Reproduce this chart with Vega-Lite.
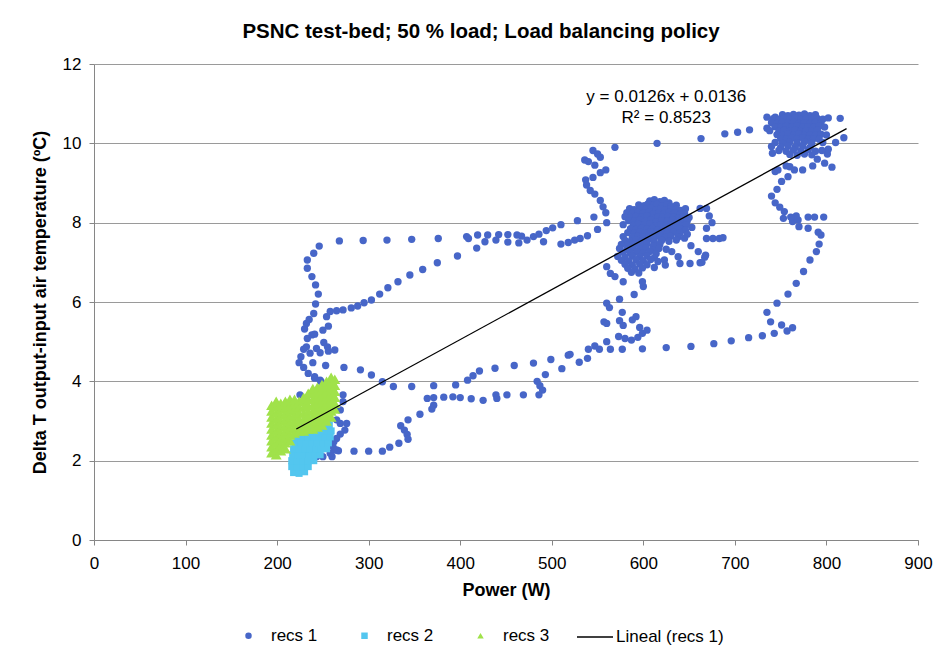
{
"$schema": "https://vega.github.io/schema/vega-lite/v6.json",
"width": 824,
"height": 476,
"autosize": {"type": "none"},
"padding": {"left": 94, "top": 64, "right": 25, "bottom": 123},
"background": "white",
"title": {"text": "PSNC test-bed; 50 % load; Load balancing policy", "font": "Liberation Sans", "fontSize": 20.5, "fontWeight": "bold", "color": "#000000", "anchor": "middle", "frame": "group", "offset": 13, "dx": -25},
"config": {
  "view": {"stroke": null},
  "font": "Liberation Sans",
  "axis": {"labelFont": "Liberation Sans", "labelFontSize": 17, "labelColor": "#000000", "titleFont": "Liberation Sans", "titleFontSize": 18, "titleFontWeight": "bold", "titleColor": "#000000", "domainColor": "#868686", "tickColor": "#868686", "gridColor": "#9A9A9A", "tickSize": 5}
},
"datasets": {
"pts": [
{"x":246,"y":7.41,"s":"recs 1"},{"x":268,"y":7.54,"s":"recs 1"},{"x":294,"y":7.55,"s":"recs 1"},{"x":320,"y":7.56,"s":"recs 1"},{"x":347,"y":7.58,"s":"recs 1"},{"x":376,"y":7.6,"s":"recs 1"},{"x":407,"y":7.65,"s":"recs 1"},{"x":419,"y":7.69,"s":"recs 1"},{"x":430,"y":7.69,"s":"recs 1"},{"x":442,"y":7.7,"s":"recs 1"},{"x":452,"y":7.7,"s":"recs 1"},{"x":462,"y":7.69,"s":"recs 1"},{"x":473,"y":7.56,"s":"recs 1"},{"x":452,"y":7.51,"s":"recs 1"},{"x":464,"y":7.49,"s":"recs 1"},{"x":439,"y":7.56,"s":"recs 1"},{"x":427,"y":7.52,"s":"recs 1"},{"x":418,"y":7.36,"s":"recs 1"},{"x":409,"y":7.6,"s":"recs 1"},
{"x":480,"y":7.65,"s":"recs 1"},{"x":486,"y":7.71,"s":"recs 1"},{"x":494,"y":7.8,"s":"recs 1"},{"x":501,"y":7.87,"s":"recs 1"},{"x":510,"y":7.95,"s":"recs 1"},{"x":491,"y":7.52,"s":"recs 1"},{"x":510,"y":7.46,"s":"recs 1"},{"x":518,"y":7.5,"s":"recs 1"},{"x":525,"y":7.56,"s":"recs 1"},{"x":531,"y":7.6,"s":"recs 1"},{"x":539,"y":7.67,"s":"recs 1"},{"x":528,"y":8.05,"s":"recs 1"},{"x":467,"y":7.66,"s":"recs 1"},
{"x":240,"y":7.23,"s":"recs 1"},{"x":233,"y":7.06,"s":"recs 1"},{"x":233,"y":6.85,"s":"recs 1"},{"x":238,"y":6.64,"s":"recs 1"},{"x":242,"y":6.43,"s":"recs 1"},{"x":245,"y":6.2,"s":"recs 1"},{"x":242,"y":5.95,"s":"recs 1"},{"x":240,"y":5.71,"s":"recs 1"},{"x":235,"y":5.56,"s":"recs 1"},{"x":232,"y":5.46,"s":"recs 1"},{"x":230,"y":5.32,"s":"recs 1"},{"x":233,"y":5.08,"s":"recs 1"},{"x":238,"y":5.17,"s":"recs 1"},{"x":241,"y":5.19,"s":"recs 1"},{"x":229,"y":4.81,"s":"recs 1"},{"x":226,"y":4.62,"s":"recs 1"},{"x":224,"y":4.47,"s":"recs 1"},{"x":229,"y":4.35,"s":"recs 1"},{"x":234,"y":4.2,"s":"recs 1"},{"x":241,"y":4.08,"s":"recs 1"},{"x":248,"y":3.99,"s":"recs 1"},{"x":232,"y":4.87,"s":"recs 1"},{"x":236,"y":4.71,"s":"recs 1"},{"x":243,"y":4.83,"s":"recs 1"},{"x":247,"y":4.72,"s":"recs 1"},{"x":251,"y":4.98,"s":"recs 1"},{"x":255,"y":4.87,"s":"recs 1"},{"x":256,"y":4.76,"s":"recs 1"},{"x":263,"y":4.79,"s":"recs 1"},{"x":239,"y":4.47,"s":"recs 1"},{"x":253,"y":4.4,"s":"recs 1"},{"x":250,"y":5.29,"s":"recs 1"},{"x":256,"y":5.39,"s":"recs 1"},{"x":254,"y":5.63,"s":"recs 1"},{"x":258,"y":5.76,"s":"recs 1"},{"x":265,"y":5.78,"s":"recs 1"},{"x":272,"y":5.8,"s":"recs 1"},{"x":281,"y":5.85,"s":"recs 1"},{"x":288,"y":5.9,"s":"recs 1"},{"x":295,"y":5.98,"s":"recs 1"},{"x":303,"y":6.05,"s":"recs 1"},{"x":312,"y":6.2,"s":"recs 1"},{"x":321,"y":6.36,"s":"recs 1"},{"x":332,"y":6.51,"s":"recs 1"},{"x":345,"y":6.68,"s":"recs 1"},{"x":359,"y":6.82,"s":"recs 1"},{"x":375,"y":6.99,"s":"recs 1"},{"x":397,"y":7.16,"s":"recs 1"},
{"x":273,"y":4.35,"s":"recs 1"},{"x":291,"y":4.29,"s":"recs 1"},{"x":303,"y":4.16,"s":"recs 1"},{"x":315,"y":3.99,"s":"recs 1"},{"x":327,"y":3.87,"s":"recs 1"},{"x":347,"y":3.87,"s":"recs 1"},{"x":371,"y":3.89,"s":"recs 1"},{"x":395,"y":3.91,"s":"recs 1"},{"x":408,"y":4.03,"s":"recs 1"},{"x":414,"y":4.14,"s":"recs 1"},{"x":421,"y":4.26,"s":"recs 1"},{"x":438,"y":4.33,"s":"recs 1"},{"x":459,"y":4.4,"s":"recs 1"},{"x":480,"y":4.46,"s":"recs 1"},{"x":499,"y":4.55,"s":"recs 1"},{"x":518,"y":4.66,"s":"recs 1"},{"x":511,"y":4.32,"s":"recs 1"},{"x":493,"y":4.17,"s":"recs 1"},{"x":484,"y":4.0,"s":"recs 1"},{"x":487,"y":3.89,"s":"recs 1"},{"x":490,"y":3.78,"s":"recs 1"},{"x":486,"y":3.66,"s":"recs 1"},{"x":469,"y":3.66,"s":"recs 1"},{"x":451,"y":3.66,"s":"recs 1"},{"x":440,"y":3.57,"s":"recs 1"},{"x":439,"y":3.66,"s":"recs 1"},{"x":425,"y":3.52,"s":"recs 1"},{"x":412,"y":3.56,"s":"recs 1"},{"x":400,"y":3.59,"s":"recs 1"},{"x":392,"y":3.61,"s":"recs 1"},{"x":382,"y":3.6,"s":"recs 1"},{"x":371,"y":3.59,"s":"recs 1"},{"x":364,"y":3.57,"s":"recs 1"},{"x":371,"y":3.4,"s":"recs 1"},{"x":369,"y":3.3,"s":"recs 1"},{"x":356,"y":3.17,"s":"recs 1"},{"x":343,"y":3.03,"s":"recs 1"},{"x":335,"y":2.88,"s":"recs 1"},{"x":339,"y":2.77,"s":"recs 1"},{"x":342,"y":2.66,"s":"recs 1"},{"x":343,"y":2.54,"s":"recs 1"},{"x":333,"y":2.44,"s":"recs 1"},{"x":323,"y":2.34,"s":"recs 1"},{"x":315,"y":2.24,"s":"recs 1"},{"x":300,"y":2.24,"s":"recs 1"},{"x":284,"y":2.24,"s":"recs 1"},{"x":267,"y":2.25,"s":"recs 1"},
{"x":272,"y":3.66,"s":"recs 1"},{"x":272,"y":3.49,"s":"recs 1"},{"x":269,"y":3.28,"s":"recs 1"},{"x":269,"y":2.94,"s":"recs 1"},{"x":276,"y":2.94,"s":"recs 1"},{"x":274,"y":2.77,"s":"recs 1"},{"x":269,"y":2.67,"s":"recs 1"},{"x":262,"y":2.48,"s":"recs 1"},{"x":263,"y":2.27,"s":"recs 1"},{"x":260,"y":2.1,"s":"recs 1"},{"x":265,"y":3.03,"s":"recs 1"},{"x":265,"y":2.56,"s":"recs 1"},{"x":261,"y":2.35,"s":"recs 1"},{"x":258,"y":2.19,"s":"recs 1"},{"x":265,"y":2.27,"s":"recs 1"},{"x":250,"y":2.1,"s":"recs 1"},{"x":243,"y":2.1,"s":"recs 1"},{"x":238,"y":2.02,"s":"recs 1"},{"x":225,"y":3.66,"s":"recs 1"},{"x":232,"y":3.57,"s":"recs 1"},{"x":241,"y":4.12,"s":"recs 1"},{"x":247,"y":4.03,"s":"recs 1"},
{"x":520,"y":4.68,"s":"recs 1"},{"x":530,"y":4.48,"s":"recs 1"},{"x":539,"y":4.58,"s":"recs 1"},{"x":540,"y":4.81,"s":"recs 1"},{"x":547,"y":4.89,"s":"recs 1"},{"x":552,"y":4.81,"s":"recs 1"},{"x":564,"y":4.81,"s":"recs 1"},{"x":577,"y":4.81,"s":"recs 1"},{"x":599,"y":4.82,"s":"recs 1"},{"x":625,"y":4.85,"s":"recs 1"},{"x":652,"y":4.88,"s":"recs 1"},{"x":677,"y":4.95,"s":"recs 1"},{"x":696,"y":5.02,"s":"recs 1"},{"x":715,"y":5.1,"s":"recs 1"},{"x":730,"y":5.15,"s":"recs 1"},{"x":743,"y":5.21,"s":"recs 1"},{"x":757,"y":5.27,"s":"recs 1"},{"x":763,"y":5.35,"s":"recs 1"},{"x":751,"y":5.42,"s":"recs 1"},{"x":739,"y":5.5,"s":"recs 1"},{"x":735,"y":5.74,"s":"recs 1"},{"x":746,"y":5.97,"s":"recs 1"},{"x":758,"y":6.2,"s":"recs 1"},{"x":767,"y":6.47,"s":"recs 1"},{"x":775,"y":6.77,"s":"recs 1"},{"x":782,"y":7.06,"s":"recs 1"},{"x":789,"y":7.27,"s":"recs 1"},{"x":792,"y":7.46,"s":"recs 1"},{"x":794,"y":7.69,"s":"recs 1"},{"x":791,"y":7.76,"s":"recs 1"},{"x":780,"y":7.86,"s":"recs 1"},{"x":780,"y":8.14,"s":"recs 1"},{"x":787,"y":8.14,"s":"recs 1"},{"x":797,"y":8.14,"s":"recs 1"},{"x":770,"y":7.9,"s":"recs 1"},{"x":763,"y":8.03,"s":"recs 1"},{"x":769,"y":8.07,"s":"recs 1"},{"x":767,"y":8.17,"s":"recs 1"},{"x":761,"y":8.14,"s":"recs 1"},{"x":753,"y":8.11,"s":"recs 1"},{"x":754,"y":8.28,"s":"recs 1"},{"x":749,"y":8.39,"s":"recs 1"},{"x":744,"y":8.5,"s":"recs 1"},{"x":740,"y":8.67,"s":"recs 1"},{"x":746,"y":8.84,"s":"recs 1"},{"x":751,"y":9.04,"s":"recs 1"},{"x":758,"y":9.16,"s":"recs 1"},{"x":744,"y":9.29,"s":"recs 1"},{"x":747,"y":9.33,"s":"recs 1"},{"x":756,"y":9.43,"s":"recs 1"},{"x":760,"y":9.41,"s":"recs 1"},{"x":765,"y":9.33,"s":"recs 1"},{"x":774,"y":9.33,"s":"recs 1"},{"x":785,"y":9.43,"s":"recs 1"},{"x":798,"y":9.5,"s":"recs 1"},{"x":806,"y":9.4,"s":"recs 1"},{"x":790,"y":9.6,"s":"recs 1"},{"x":801,"y":9.73,"s":"recs 1"},{"x":802,"y":9.85,"s":"recs 1"},{"x":810,"y":10.02,"s":"recs 1"},{"x":819,"y":10.14,"s":"recs 1"},{"x":815,"y":10.63,"s":"recs 1"},
{"x":560,"y":5.0,"s":"recs 1"},{"x":573,"y":5.13,"s":"recs 1"},{"x":580,"y":5.08,"s":"recs 1"},{"x":587,"y":5.04,"s":"recs 1"},{"x":594,"y":5.11,"s":"recs 1"},{"x":599,"y":5.21,"s":"recs 1"},{"x":604,"y":5.29,"s":"recs 1"},{"x":596,"y":5.36,"s":"recs 1"},{"x":588,"y":5.55,"s":"recs 1"},{"x":592,"y":5.63,"s":"recs 1"},{"x":574,"y":5.53,"s":"recs 1"},{"x":578,"y":5.41,"s":"recs 1"},{"x":557,"y":5.5,"s":"recs 1"},{"x":560,"y":5.46,"s":"recs 1"},{"x":577,"y":5.74,"s":"recs 1"},{"x":560,"y":5.97,"s":"recs 1"},{"x":563,"y":5.86,"s":"recs 1"},{"x":560,"y":6.89,"s":"recs 1"},{"x":564,"y":6.72,"s":"recs 1"},{"x":569,"y":6.64,"s":"recs 1"},{"x":578,"y":6.51,"s":"recs 1"},{"x":600,"y":6.39,"s":"recs 1"},{"x":599,"y":6.51,"s":"recs 1"},{"x":612,"y":6.87,"s":"recs 1"},{"x":590,"y":6.19,"s":"recs 1"},{"x":574,"y":6.07,"s":"recs 1"},
{"x":569,"y":9.9,"s":"recs 1"},{"x":615,"y":10.0,"s":"recs 1"},{"x":663,"y":10.12,"s":"recs 1"},{"x":689,"y":10.24,"s":"recs 1"},{"x":703,"y":10.28,"s":"recs 1"},{"x":716,"y":10.34,"s":"recs 1"},{"x":735,"y":10.38,"s":"recs 1"},{"x":735,"y":10.66,"s":"recs 1"},{"x":744,"y":10.66,"s":"recs 1"},
{"x":545,"y":9.82,"s":"recs 1"},{"x":536,"y":9.58,"s":"recs 1"},{"x":540,"y":9.54,"s":"recs 1"},{"x":550,"y":9.73,"s":"recs 1"},{"x":553,"y":9.65,"s":"recs 1"},{"x":547,"y":9.45,"s":"recs 1"},{"x":553,"y":9.26,"s":"recs 1"},{"x":559,"y":9.33,"s":"recs 1"},{"x":545,"y":9.14,"s":"recs 1"},{"x":537,"y":9.08,"s":"recs 1"},{"x":538,"y":8.95,"s":"recs 1"},{"x":542,"y":8.81,"s":"recs 1"},{"x":547,"y":8.72,"s":"recs 1"},{"x":553,"y":8.56,"s":"recs 1"},{"x":556,"y":8.4,"s":"recs 1"},{"x":559,"y":8.25,"s":"recs 1"},{"x":560,"y":8.0,"s":"recs 1"},{"x":550,"y":7.83,"s":"recs 1"},{"x":546,"y":8.14,"s":"recs 1"},
{"x":669,"y":8.36,"s":"recs 1"},{"x":672,"y":8.17,"s":"recs 1"},{"x":675,"y":8.0,"s":"recs 1"},{"x":669,"y":7.86,"s":"recs 1"},{"x":669,"y":7.6,"s":"recs 1"},{"x":676,"y":7.6,"s":"recs 1"},{"x":683,"y":7.6,"s":"recs 1"},{"x":687,"y":7.62,"s":"recs 1"},{"x":653,"y":7.88,"s":"recs 1"},{"x":660,"y":7.27,"s":"recs 1"},{"x":667,"y":7.13,"s":"recs 1"},{"x":662,"y":6.99,"s":"recs 1"},{"x":651,"y":6.97,"s":"recs 1"},{"x":640,"y":6.97,"s":"recs 1"},{"x":638,"y":7.14,"s":"recs 1"},{"x":631,"y":7.27,"s":"recs 1"},{"x":623,"y":7.06,"s":"recs 1"},{"x":624,"y":6.93,"s":"recs 1"},{"x":652,"y":7.42,"s":"recs 1"},{"x":662,"y":8.36,"s":"recs 1"},{"x":664,"y":7.0,"s":"recs 1"},{"x":668,"y":7.18,"s":"recs 1"},
{"x":607,"y":8.55,"s":"recs 1"},{"x":612,"y":8.58,"s":"recs 1"},{"x":618,"y":8.53,"s":"recs 1"},{"x":623,"y":8.56,"s":"recs 1"},{"x":628,"y":8.5,"s":"recs 1"},
{"x":595,"y":8.45,"s":"recs 1"},{"x":601,"y":8.43,"s":"recs 1"},{"x":605,"y":8.47,"s":"recs 1"},{"x":611,"y":8.44,"s":"recs 1"},{"x":615,"y":8.46,"s":"recs 1"},{"x":620,"y":8.42,"s":"recs 1"},{"x":626,"y":8.45,"s":"recs 1"},{"x":630,"y":8.41,"s":"recs 1"},{"x":636,"y":8.44,"s":"recs 1"},
{"x":585,"y":8.35,"s":"recs 1"},{"x":590,"y":8.33,"s":"recs 1"},{"x":597,"y":8.36,"s":"recs 1"},{"x":603,"y":8.34,"s":"recs 1"},{"x":608,"y":8.37,"s":"recs 1"},{"x":614,"y":8.33,"s":"recs 1"},{"x":619,"y":8.35,"s":"recs 1"},{"x":624,"y":8.32,"s":"recs 1"},{"x":630,"y":8.36,"s":"recs 1"},{"x":636,"y":8.34,"s":"recs 1"},{"x":641,"y":8.31,"s":"recs 1"},{"x":646,"y":8.35,"s":"recs 1"},
{"x":582,"y":8.25,"s":"recs 1"},{"x":588,"y":8.23,"s":"recs 1"},{"x":594,"y":8.26,"s":"recs 1"},{"x":600,"y":8.24,"s":"recs 1"},{"x":606,"y":8.27,"s":"recs 1"},{"x":611,"y":8.22,"s":"recs 1"},{"x":617,"y":8.25,"s":"recs 1"},{"x":623,"y":8.23,"s":"recs 1"},{"x":628,"y":8.26,"s":"recs 1"},{"x":634,"y":8.24,"s":"recs 1"},{"x":640,"y":8.21,"s":"recs 1"},{"x":645,"y":8.25,"s":"recs 1"},
{"x":580,"y":8.15,"s":"recs 1"},{"x":586,"y":8.13,"s":"recs 1"},{"x":592,"y":8.16,"s":"recs 1"},{"x":598,"y":8.14,"s":"recs 1"},{"x":604,"y":8.17,"s":"recs 1"},{"x":610,"y":8.12,"s":"recs 1"},{"x":616,"y":8.15,"s":"recs 1"},{"x":621,"y":8.13,"s":"recs 1"},{"x":627,"y":8.16,"s":"recs 1"},{"x":633,"y":8.14,"s":"recs 1"},{"x":638,"y":8.11,"s":"recs 1"},{"x":644,"y":8.15,"s":"recs 1"},{"x":650,"y":8.13,"s":"recs 1"},
{"x":584,"y":8.05,"s":"recs 1"},{"x":590,"y":8.03,"s":"recs 1"},{"x":596,"y":8.06,"s":"recs 1"},{"x":602,"y":8.04,"s":"recs 1"},{"x":608,"y":8.07,"s":"recs 1"},{"x":614,"y":8.02,"s":"recs 1"},{"x":620,"y":8.05,"s":"recs 1"},{"x":626,"y":8.03,"s":"recs 1"},{"x":632,"y":8.06,"s":"recs 1"},{"x":637,"y":8.04,"s":"recs 1"},{"x":643,"y":8.01,"s":"recs 1"},{"x":648,"y":8.05,"s":"recs 1"},
{"x":578,"y":7.95,"s":"recs 1"},{"x":589,"y":7.93,"s":"recs 1"},{"x":595,"y":7.96,"s":"recs 1"},{"x":601,"y":7.94,"s":"recs 1"},{"x":607,"y":7.97,"s":"recs 1"},{"x":613,"y":7.92,"s":"recs 1"},{"x":619,"y":7.95,"s":"recs 1"},{"x":625,"y":7.93,"s":"recs 1"},{"x":631,"y":7.96,"s":"recs 1"},{"x":636,"y":7.94,"s":"recs 1"},{"x":642,"y":7.91,"s":"recs 1"},{"x":647,"y":7.95,"s":"recs 1"},
{"x":586,"y":7.85,"s":"recs 1"},{"x":592,"y":7.83,"s":"recs 1"},{"x":598,"y":7.86,"s":"recs 1"},{"x":604,"y":7.84,"s":"recs 1"},{"x":610,"y":7.87,"s":"recs 1"},{"x":616,"y":7.82,"s":"recs 1"},{"x":622,"y":7.85,"s":"recs 1"},{"x":628,"y":7.83,"s":"recs 1"},{"x":634,"y":7.86,"s":"recs 1"},{"x":640,"y":7.84,"s":"recs 1"},{"x":646,"y":7.81,"s":"recs 1"},
{"x":583,"y":7.75,"s":"recs 1"},{"x":590,"y":7.73,"s":"recs 1"},{"x":596,"y":7.76,"s":"recs 1"},{"x":602,"y":7.74,"s":"recs 1"},{"x":608,"y":7.77,"s":"recs 1"},{"x":614,"y":7.72,"s":"recs 1"},{"x":620,"y":7.75,"s":"recs 1"},{"x":626,"y":7.73,"s":"recs 1"},{"x":633,"y":7.76,"s":"recs 1"},{"x":640,"y":7.74,"s":"recs 1"},{"x":648,"y":7.71,"s":"recs 1"},
{"x":578,"y":7.65,"s":"recs 1"},{"x":588,"y":7.63,"s":"recs 1"},{"x":594,"y":7.66,"s":"recs 1"},{"x":600,"y":7.64,"s":"recs 1"},{"x":606,"y":7.67,"s":"recs 1"},{"x":612,"y":7.62,"s":"recs 1"},{"x":618,"y":7.65,"s":"recs 1"},{"x":624,"y":7.63,"s":"recs 1"},{"x":630,"y":7.66,"s":"recs 1"},{"x":638,"y":7.64,"s":"recs 1"},{"x":645,"y":7.61,"s":"recs 1"},
{"x":580,"y":7.55,"s":"recs 1"},{"x":586,"y":7.53,"s":"recs 1"},{"x":592,"y":7.56,"s":"recs 1"},{"x":598,"y":7.54,"s":"recs 1"},{"x":605,"y":7.57,"s":"recs 1"},{"x":612,"y":7.52,"s":"recs 1"},{"x":620,"y":7.55,"s":"recs 1"},{"x":628,"y":7.53,"s":"recs 1"},{"x":636,"y":7.56,"s":"recs 1"},
{"x":576,"y":7.45,"s":"recs 1"},{"x":583,"y":7.43,"s":"recs 1"},{"x":590,"y":7.46,"s":"recs 1"},{"x":597,"y":7.44,"s":"recs 1"},{"x":604,"y":7.47,"s":"recs 1"},{"x":611,"y":7.42,"s":"recs 1"},{"x":618,"y":7.45,"s":"recs 1"},
{"x":574,"y":7.35,"s":"recs 1"},{"x":582,"y":7.33,"s":"recs 1"},{"x":589,"y":7.36,"s":"recs 1"},{"x":596,"y":7.34,"s":"recs 1"},{"x":603,"y":7.37,"s":"recs 1"},{"x":610,"y":7.32,"s":"recs 1"},{"x":617,"y":7.35,"s":"recs 1"},{"x":625,"y":7.33,"s":"recs 1"},
{"x":578,"y":7.25,"s":"recs 1"},{"x":586,"y":7.23,"s":"recs 1"},{"x":593,"y":7.26,"s":"recs 1"},{"x":600,"y":7.24,"s":"recs 1"},{"x":607,"y":7.27,"s":"recs 1"},{"x":614,"y":7.22,"s":"recs 1"},
{"x":572,"y":7.15,"s":"recs 1"},{"x":580,"y":7.13,"s":"recs 1"},{"x":588,"y":7.16,"s":"recs 1"},{"x":596,"y":7.14,"s":"recs 1"},{"x":604,"y":7.17,"s":"recs 1"},{"x":612,"y":7.12,"s":"recs 1"},
{"x":576,"y":7.05,"s":"recs 1"},{"x":584,"y":7.03,"s":"recs 1"},{"x":592,"y":7.06,"s":"recs 1"},{"x":600,"y":7.04,"s":"recs 1"},{"x":608,"y":7.07,"s":"recs 1"},{"x":616,"y":7.02,"s":"recs 1"},
{"x":580,"y":6.95,"s":"recs 1"},{"x":588,"y":6.93,"s":"recs 1"},{"x":596,"y":6.96,"s":"recs 1"},{"x":604,"y":6.94,"s":"recs 1"},
{"x":583,"y":6.85,"s":"recs 1"},{"x":591,"y":6.83,"s":"recs 1"},{"x":599,"y":6.86,"s":"recs 1"},{"x":587,"y":6.75,"s":"recs 1"},{"x":595,"y":6.73,"s":"recs 1"},
{"x":752,"y":10.72,"s":"recs 1"},{"x":758,"y":10.7,"s":"recs 1"},{"x":764,"y":10.73,"s":"recs 1"},{"x":770,"y":10.71,"s":"recs 1"},{"x":776,"y":10.74,"s":"recs 1"},{"x":782,"y":10.7,"s":"recs 1"},{"x":788,"y":10.72,"s":"recs 1"},
{"x":742,"y":10.62,"s":"recs 1"},{"x":748,"y":10.6,"s":"recs 1"},{"x":754,"y":10.63,"s":"recs 1"},{"x":760,"y":10.61,"s":"recs 1"},{"x":766,"y":10.64,"s":"recs 1"},{"x":772,"y":10.6,"s":"recs 1"},{"x":778,"y":10.62,"s":"recs 1"},{"x":784,"y":10.6,"s":"recs 1"},{"x":790,"y":10.63,"s":"recs 1"},{"x":796,"y":10.61,"s":"recs 1"},{"x":802,"y":10.64,"s":"recs 1"},
{"x":740,"y":10.52,"s":"recs 1"},{"x":746,"y":10.5,"s":"recs 1"},{"x":752,"y":10.53,"s":"recs 1"},{"x":758,"y":10.51,"s":"recs 1"},{"x":764,"y":10.54,"s":"recs 1"},{"x":770,"y":10.5,"s":"recs 1"},{"x":776,"y":10.52,"s":"recs 1"},{"x":782,"y":10.5,"s":"recs 1"},{"x":788,"y":10.53,"s":"recs 1"},{"x":794,"y":10.51,"s":"recs 1"},
{"x":744,"y":10.42,"s":"recs 1"},{"x":750,"y":10.4,"s":"recs 1"},{"x":756,"y":10.43,"s":"recs 1"},{"x":762,"y":10.41,"s":"recs 1"},{"x":768,"y":10.44,"s":"recs 1"},{"x":774,"y":10.4,"s":"recs 1"},{"x":780,"y":10.42,"s":"recs 1"},{"x":786,"y":10.4,"s":"recs 1"},{"x":792,"y":10.43,"s":"recs 1"},{"x":798,"y":10.41,"s":"recs 1"},
{"x":738,"y":10.32,"s":"recs 1"},{"x":748,"y":10.3,"s":"recs 1"},{"x":754,"y":10.33,"s":"recs 1"},{"x":760,"y":10.31,"s":"recs 1"},{"x":766,"y":10.34,"s":"recs 1"},{"x":772,"y":10.3,"s":"recs 1"},{"x":778,"y":10.32,"s":"recs 1"},{"x":784,"y":10.3,"s":"recs 1"},{"x":790,"y":10.33,"s":"recs 1"},
{"x":746,"y":10.22,"s":"recs 1"},{"x":752,"y":10.2,"s":"recs 1"},{"x":758,"y":10.23,"s":"recs 1"},{"x":764,"y":10.21,"s":"recs 1"},{"x":770,"y":10.24,"s":"recs 1"},{"x":776,"y":10.2,"s":"recs 1"},{"x":782,"y":10.22,"s":"recs 1"},{"x":788,"y":10.2,"s":"recs 1"},{"x":794,"y":10.23,"s":"recs 1"},{"x":800,"y":10.21,"s":"recs 1"},
{"x":750,"y":10.12,"s":"recs 1"},{"x":756,"y":10.1,"s":"recs 1"},{"x":762,"y":10.13,"s":"recs 1"},{"x":768,"y":10.11,"s":"recs 1"},{"x":774,"y":10.14,"s":"recs 1"},{"x":780,"y":10.1,"s":"recs 1"},{"x":786,"y":10.12,"s":"recs 1"},{"x":792,"y":10.1,"s":"recs 1"},
{"x":744,"y":10.02,"s":"recs 1"},{"x":752,"y":10.0,"s":"recs 1"},{"x":760,"y":10.03,"s":"recs 1"},{"x":768,"y":10.01,"s":"recs 1"},{"x":776,"y":10.04,"s":"recs 1"},{"x":784,"y":10.0,"s":"recs 1"},{"x":796,"y":10.02,"s":"recs 1"},
{"x":740,"y":9.92,"s":"recs 1"},{"x":750,"y":9.9,"s":"recs 1"},{"x":758,"y":9.93,"s":"recs 1"},{"x":766,"y":9.91,"s":"recs 1"},{"x":774,"y":9.94,"s":"recs 1"},{"x":782,"y":9.9,"s":"recs 1"},
{"x":748,"y":9.82,"s":"recs 1"},{"x":756,"y":9.8,"s":"recs 1"},{"x":764,"y":9.83,"s":"recs 1"},{"x":772,"y":9.81,"s":"recs 1"},{"x":780,"y":9.84,"s":"recs 1"},{"x":788,"y":9.8,"s":"recs 1"},{"x":795,"y":9.82,"s":"recs 1"},
{"x":760,"y":9.72,"s":"recs 1"},{"x":768,"y":9.7,"s":"recs 1"},{"x":776,"y":9.73,"s":"recs 1"},{"x":784,"y":9.71,"s":"recs 1"},{"x":741,"y":9.75,"s":"recs 1"},
{"x":218,"y":1.7,"s":"recs 2"},{"x":224,"y":1.68,"s":"recs 2"},{"x":230,"y":1.72,"s":"recs 2"},
{"x":216,"y":1.85,"s":"recs 2"},{"x":222,"y":1.85,"s":"recs 2"},{"x":228,"y":1.85,"s":"recs 2"},{"x":234,"y":1.85,"s":"recs 2"},
{"x":216,"y":2.0,"s":"recs 2"},{"x":222,"y":2.0,"s":"recs 2"},{"x":228,"y":2.0,"s":"recs 2"},{"x":234,"y":2.0,"s":"recs 2"},{"x":240,"y":2.0,"s":"recs 2"},
{"x":217,"y":2.15,"s":"recs 2"},{"x":223,"y":2.15,"s":"recs 2"},{"x":229,"y":2.15,"s":"recs 2"},{"x":235,"y":2.15,"s":"recs 2"},{"x":241,"y":2.15,"s":"recs 2"},{"x":247,"y":2.15,"s":"recs 2"},
{"x":218,"y":2.3,"s":"recs 2"},{"x":224,"y":2.3,"s":"recs 2"},{"x":230,"y":2.3,"s":"recs 2"},{"x":236,"y":2.3,"s":"recs 2"},{"x":242,"y":2.3,"s":"recs 2"},{"x":248,"y":2.3,"s":"recs 2"},{"x":254,"y":2.3,"s":"recs 2"},
{"x":220,"y":2.45,"s":"recs 2"},{"x":226,"y":2.45,"s":"recs 2"},{"x":232,"y":2.45,"s":"recs 2"},{"x":238,"y":2.45,"s":"recs 2"},{"x":244,"y":2.45,"s":"recs 2"},{"x":250,"y":2.45,"s":"recs 2"},{"x":256,"y":2.45,"s":"recs 2"},
{"x":222,"y":2.6,"s":"recs 2"},{"x":228,"y":2.6,"s":"recs 2"},{"x":234,"y":2.6,"s":"recs 2"},{"x":240,"y":2.6,"s":"recs 2"},{"x":246,"y":2.6,"s":"recs 2"},{"x":252,"y":2.6,"s":"recs 2"},{"x":258,"y":2.6,"s":"recs 2"},
{"x":224,"y":2.75,"s":"recs 2"},{"x":230,"y":2.75,"s":"recs 2"},{"x":236,"y":2.75,"s":"recs 2"},{"x":242,"y":2.75,"s":"recs 2"},{"x":248,"y":2.75,"s":"recs 2"},{"x":254,"y":2.75,"s":"recs 2"},{"x":259,"y":2.75,"s":"recs 2"},
{"x":228,"y":2.9,"s":"recs 2"},{"x":234,"y":2.9,"s":"recs 2"},{"x":240,"y":2.9,"s":"recs 2"},{"x":246,"y":2.9,"s":"recs 2"},{"x":252,"y":2.9,"s":"recs 2"},{"x":257,"y":2.9,"s":"recs 2"},
{"x":232,"y":3.05,"s":"recs 2"},{"x":240,"y":3.05,"s":"recs 2"},{"x":248,"y":3.05,"s":"recs 2"},{"x":255,"y":3.05,"s":"recs 2"},
{"x":194,"y":2.2,"s":"recs 3"},{"x":194,"y":2.35,"s":"recs 3"},{"x":194,"y":2.5,"s":"recs 3"},{"x":194,"y":2.65,"s":"recs 3"},{"x":194,"y":2.8,"s":"recs 3"},{"x":194,"y":2.95,"s":"recs 3"},{"x":194,"y":3.1,"s":"recs 3"},{"x":194,"y":3.25,"s":"recs 3"},{"x":194,"y":3.4,"s":"recs 3"},
{"x":199,"y":2.15,"s":"recs 3"},{"x":199,"y":2.3,"s":"recs 3"},{"x":199,"y":2.45,"s":"recs 3"},{"x":199,"y":2.6,"s":"recs 3"},{"x":199,"y":2.75,"s":"recs 3"},{"x":199,"y":2.9,"s":"recs 3"},{"x":199,"y":3.05,"s":"recs 3"},{"x":199,"y":3.2,"s":"recs 3"},{"x":199,"y":3.35,"s":"recs 3"},{"x":199,"y":3.5,"s":"recs 3"},
{"x":204,"y":2.25,"s":"recs 3"},{"x":204,"y":2.4,"s":"recs 3"},{"x":204,"y":2.55,"s":"recs 3"},{"x":204,"y":2.7,"s":"recs 3"},{"x":204,"y":2.85,"s":"recs 3"},{"x":204,"y":3.0,"s":"recs 3"},{"x":204,"y":3.15,"s":"recs 3"},{"x":204,"y":3.3,"s":"recs 3"},{"x":204,"y":3.45,"s":"recs 3"},
{"x":209,"y":2.3,"s":"recs 3"},{"x":209,"y":2.45,"s":"recs 3"},{"x":209,"y":2.6,"s":"recs 3"},{"x":209,"y":2.75,"s":"recs 3"},{"x":209,"y":2.9,"s":"recs 3"},{"x":209,"y":3.05,"s":"recs 3"},{"x":209,"y":3.2,"s":"recs 3"},{"x":209,"y":3.35,"s":"recs 3"},{"x":209,"y":3.5,"s":"recs 3"},
{"x":214,"y":2.5,"s":"recs 3"},{"x":214,"y":2.65,"s":"recs 3"},{"x":214,"y":2.8,"s":"recs 3"},{"x":214,"y":2.95,"s":"recs 3"},{"x":214,"y":3.1,"s":"recs 3"},{"x":214,"y":3.25,"s":"recs 3"},{"x":214,"y":3.4,"s":"recs 3"},{"x":214,"y":3.55,"s":"recs 3"},
{"x":219,"y":2.7,"s":"recs 3"},{"x":219,"y":2.85,"s":"recs 3"},{"x":219,"y":3.0,"s":"recs 3"},{"x":219,"y":3.15,"s":"recs 3"},{"x":219,"y":3.3,"s":"recs 3"},{"x":219,"y":3.45,"s":"recs 3"},{"x":219,"y":3.55,"s":"recs 3"},
{"x":224,"y":2.75,"s":"recs 3"},{"x":224,"y":2.9,"s":"recs 3"},{"x":224,"y":3.05,"s":"recs 3"},{"x":224,"y":3.2,"s":"recs 3"},{"x":224,"y":3.35,"s":"recs 3"},{"x":224,"y":3.5,"s":"recs 3"},
{"x":229,"y":2.75,"s":"recs 3"},{"x":229,"y":2.9,"s":"recs 3"},{"x":229,"y":3.05,"s":"recs 3"},{"x":229,"y":3.2,"s":"recs 3"},{"x":229,"y":3.35,"s":"recs 3"},{"x":229,"y":3.5,"s":"recs 3"},{"x":229,"y":3.6,"s":"recs 3"},
{"x":234,"y":2.8,"s":"recs 3"},{"x":234,"y":2.95,"s":"recs 3"},{"x":234,"y":3.1,"s":"recs 3"},{"x":234,"y":3.25,"s":"recs 3"},{"x":234,"y":3.4,"s":"recs 3"},{"x":234,"y":3.55,"s":"recs 3"},{"x":234,"y":3.7,"s":"recs 3"},
{"x":239,"y":2.8,"s":"recs 3"},{"x":239,"y":2.95,"s":"recs 3"},{"x":239,"y":3.1,"s":"recs 3"},{"x":239,"y":3.25,"s":"recs 3"},{"x":239,"y":3.4,"s":"recs 3"},{"x":239,"y":3.55,"s":"recs 3"},{"x":239,"y":3.7,"s":"recs 3"},{"x":239,"y":3.82,"s":"recs 3"},
{"x":244,"y":2.85,"s":"recs 3"},{"x":244,"y":3.0,"s":"recs 3"},{"x":244,"y":3.15,"s":"recs 3"},{"x":244,"y":3.3,"s":"recs 3"},{"x":244,"y":3.45,"s":"recs 3"},{"x":244,"y":3.6,"s":"recs 3"},{"x":244,"y":3.75,"s":"recs 3"},{"x":244,"y":3.85,"s":"recs 3"},
{"x":249,"y":2.9,"s":"recs 3"},{"x":249,"y":3.05,"s":"recs 3"},{"x":249,"y":3.2,"s":"recs 3"},{"x":249,"y":3.35,"s":"recs 3"},{"x":249,"y":3.5,"s":"recs 3"},{"x":249,"y":3.65,"s":"recs 3"},{"x":249,"y":3.8,"s":"recs 3"},{"x":249,"y":3.92,"s":"recs 3"},
{"x":254,"y":3.0,"s":"recs 3"},{"x":254,"y":3.15,"s":"recs 3"},{"x":254,"y":3.3,"s":"recs 3"},{"x":254,"y":3.45,"s":"recs 3"},{"x":254,"y":3.6,"s":"recs 3"},{"x":254,"y":3.75,"s":"recs 3"},{"x":254,"y":3.9,"s":"recs 3"},{"x":254,"y":4.0,"s":"recs 3"},
{"x":259,"y":3.1,"s":"recs 3"},{"x":259,"y":3.25,"s":"recs 3"},{"x":259,"y":3.4,"s":"recs 3"},{"x":259,"y":3.55,"s":"recs 3"},{"x":259,"y":3.7,"s":"recs 3"},{"x":259,"y":3.85,"s":"recs 3"},{"x":259,"y":4.0,"s":"recs 3"},{"x":259,"y":4.1,"s":"recs 3"},
{"x":263,"y":3.3,"s":"recs 3"},{"x":263,"y":3.45,"s":"recs 3"},{"x":263,"y":3.6,"s":"recs 3"},{"x":263,"y":3.75,"s":"recs 3"},{"x":263,"y":3.9,"s":"recs 3"},{"x":263,"y":4.05,"s":"recs 3"}
],
"trend": [{"x":221,"y":2.798,"s":"Lineal (recs 1)"},{"x":822,"y":10.371,"s":"Lineal (recs 1)"}],
"eq": [{"x":625,"y":11.18,"t":"y = 0.0126x + 0.0136"},{"x":625,"y":10.64,"t":"R² = 0.8523"}]
},
"layer": [
{
 "data": {"name": "pts"},
 "mark": {"type": "point", "filled": true, "opacity": 1},
 "encoding": {
  "x": {"field": "x", "type": "quantitative", "scale": {"domain": [0, 900], "nice": false}, "axis": {"title": "Power (W)", "values": [0,100,200,300,400,500,600,700,800,900], "format": "d", "grid": false, "labelPadding": 10, "titlePadding": 10, "labelFlush": false, "labelOverlap": false}},
  "y": {"field": "y", "type": "quantitative", "scale": {"domain": [0, 12], "nice": false}, "axis": {"title": "Delta T output-input air temperature (ºC)", "values": [0,2,4,6,8,10,12], "format": "d", "grid": true, "labelPadding": 8, "titlePadding": 13, "labelFlush": false}},
  "size": {"condition": [{"test": "datum.s === 'recs 3'", "value": 120}, {"test": "datum.s === 'recs 2'", "value": 50}], "value": 54},
  "color": {"field": "s", "type": "nominal", "scale": {"domain": ["recs 1", "recs 2", "recs 3"], "range": ["#4766C8", "#53C6EF", "#A0E24A"]}, "legend": {"title": null, "orient": "none", "legendX": 146, "legendY": 563, "direction": "horizontal", "padding": 0, "symbolSize": 42, "labelFontSize": 17, "labelFont": "Liberation Sans", "labelColor": "#000000", "labelOffset": 14, "columnPadding": 38}},
  "shape": {"field": "s", "type": "nominal", "scale": {"domain": ["recs 1", "recs 2", "recs 3"], "range": ["circle", "square", "triangle-up"]}, "legend": {"title": null, "orient": "none", "legendX": 146, "legendY": 563, "direction": "horizontal", "padding": 0, "symbolSize": 42, "labelFontSize": 17, "labelFont": "Liberation Sans", "labelColor": "#000000", "labelOffset": 14, "columnPadding": 38}}
 }
},
{
 "data": {"name": "trend"},
 "mark": {"type": "line", "strokeWidth": 1.3},
 "encoding": {
  "x": {"field": "x", "type": "quantitative"},
  "y": {"field": "y", "type": "quantitative"},
  "stroke": {"field": "s", "type": "nominal", "scale": {"domain": ["Lineal (recs 1)"], "range": ["#000000"]}, "legend": {"title": null, "orient": "none", "legendX": 482, "legendY": 554, "direction": "horizontal", "padding": 0, "symbolType": "stroke", "symbolSize": 1296, "symbolStrokeWidth": 1.3, "labelFontSize": 17, "labelFont": "Liberation Sans", "labelColor": "#000000", "labelOffset": 2}}
 }
},
{
 "data": {"name": "eq"},
 "mark": {"type": "text", "fontSize": 17, "font": "Liberation Sans", "align": "center", "baseline": "middle", "color": "#000000"},
 "encoding": {
  "x": {"field": "x", "type": "quantitative"},
  "y": {"field": "y", "type": "quantitative"},
  "text": {"field": "t", "type": "nominal"}
 }
}
]
}
